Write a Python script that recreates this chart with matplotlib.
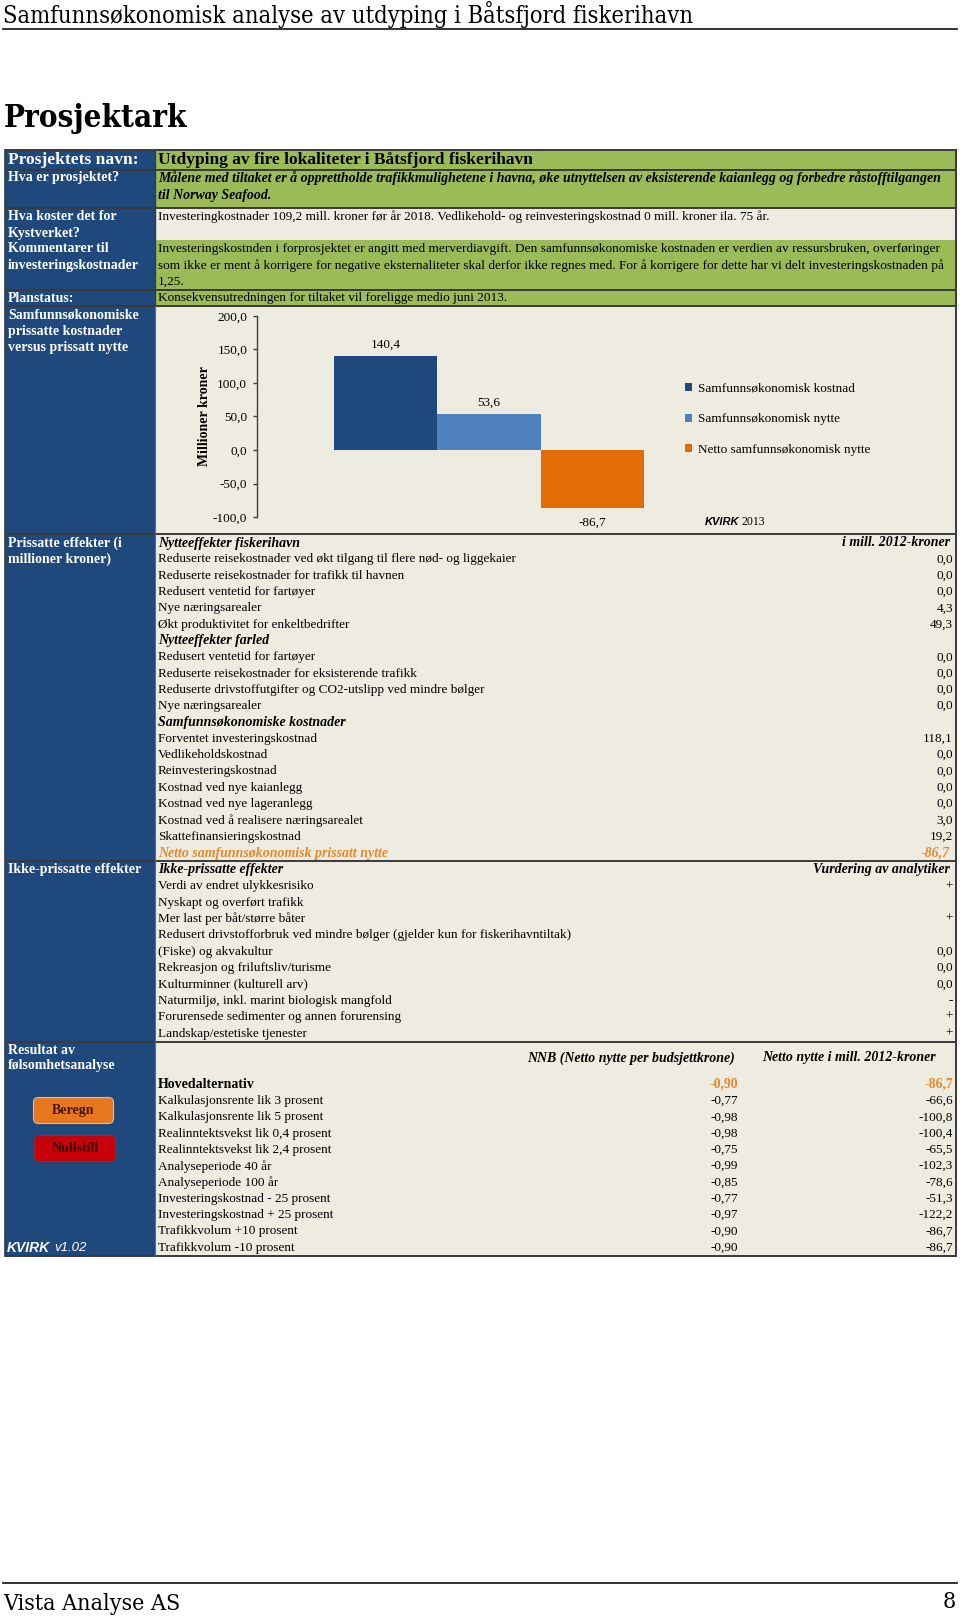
import matplotlib
matplotlib.use("Agg")
import matplotlib.pyplot as plt
from matplotlib.patches import Rectangle, FancyBboxPatch

# ---------------- data ----------------
page_header = "Samfunnsøkonomisk analyse av utdyping i Båtsfjord fiskerihavn"
page_title = "Prosjektark"
footer_left = "Vista Analyse AS"
footer_right = "8"

project_name = "Utdyping av fire lokaliteter i Båtsfjord fiskerihavn"
project_desc = [
    "Målene med tiltaket er å opprettholde trafikkmulighetene i havna, øke utnyttelsen av eksisterende kaianlegg og forbedre råstofftilgangen",
    "til Norway Seafood.",
]
cost_text = ["Investeringkostnader 109,2 mill. kroner før år 2018. Vedlikehold- og reinvesteringskostnad 0 mill. kroner ila. 75 år."]
comment_text = [
    "Investeringskostnden i forprosjektet er angitt med merverdiavgift. Den samfunnsøkonomiske kostnaden er verdien av ressursbruken, overføringer",
    "som ikke er ment å korrigere for negative eksternaliteter skal derfor ikke regnes med. For å korrigere for dette har vi delt investeringskostnaden på",
    "1,25.",
]
plan_text = "Konsekvensutredningen for tiltaket vil foreligge medio juni 2013."

chart_categories = ["Samfunnsøkonomisk kostnad", "Samfunnsøkonomisk nytte", "Netto samfunnsøkonomisk nytte"]
chart_values = [140.4, 53.6, -86.7]
chart_yticks = [-100, -50, 0, 50, 100, 150, 200]

fiskerihavn_items = [
    "Reduserte reisekostnader ved økt tilgang til flere nød- og liggekaier",
    "Reduserte reisekostnader for trafikk til havnen",
    "Redusert ventetid for fartøyer",
    "Nye næringsarealer",
    "Økt produktivitet for enkeltbedrifter",
]
fiskerihavn_values = [0.0, 0.0, 0.0, 4.3, 49.3]
farled_items = [
    "Redusert ventetid for fartøyer",
    "Reduserte reisekostnader for eksisterende trafikk",
    "Reduserte drivstoffutgifter og CO2-utslipp ved mindre bølger",
    "Nye næringsarealer",
]
farled_values = [0.0, 0.0, 0.0, 0.0]
kostnad_items = [
    "Forventet investeringskostnad",
    "Vedlikeholdskostnad",
    "Reinvesteringskostnad",
    "Kostnad ved nye kaianlegg",
    "Kostnad ved nye lageranlegg",
    "Kostnad ved å realisere næringsarealet",
    "Skattefinansieringskostnad",
]
kostnad_values = [118.1, 0.0, 0.0, 0.0, 0.0, 3.0, 19.2]
netto_prissatt = -86.7

ikke_items = [
    "Verdi av endret ulykkesrisiko",
    "Nyskapt og overført trafikk",
    "Mer last per båt/større båter",
    "Redusert drivstofforbruk ved mindre bølger (gjelder kun for fiskerihavntiltak)",
    "(Fiske) og akvakultur",
    "Rekreasjon og friluftsliv/turisme",
    "Kulturminner (kulturell arv)",
    "Naturmiljø, inkl. marint biologisk mangfold",
    "Forurensede sedimenter og annen forurensing",
    "Landskap/estetiske tjenester",
]
ikke_values = ["+", "", "+", "", "0,0", "0,0", "0,0", "-", "+", "+"]

sens_main = "Hovedalternativ"
sens_main_nnb = -0.90
sens_main_netto = -86.7
sens_items = [
    "Kalkulasjonsrente lik 3 prosent",
    "Kalkulasjonsrente lik 5 prosent",
    "Realinntektsvekst lik 0,4 prosent",
    "Realinntektsvekst lik 2,4 prosent",
    "Analyseperiode 40 år",
    "Analyseperiode 100 år",
    "Investeringskostnad - 25 prosent",
    "Investeringskostnad + 25 prosent",
    "Trafikkvolum +10 prosent",
    "Trafikkvolum -10 prosent",
]
sens_nnb = [-0.77, -0.98, -0.98, -0.75, -0.99, -0.85, -0.77, -0.97, -0.90, -0.90]
sens_netto = [-66.6, -100.8, -100.4, -65.5, -102.3, -78.6, -51.3, -122.2, -86.7, -86.7]

# ---------------- style ----------------
SERIF = ["Liberation Serif", "DejaVu Serif"]
NAVY = "#1F497D"
GREEN = "#9BBB59"
BEIGE = "#EEECE1"
BORDER = "#3A3A3A"
ORANGE_TXT = "#E5892F"
FS = 9.5      # body text
FSB = 10.0    # bold / bold-italic text
FSL = 10.0    # left column labels


def nf(v, d=1):
    return f"{v:.{d}f}".replace(".", ",")


W, H = 960, 1620
fig = plt.figure(figsize=(W / 100, H / 100), dpi=100)
fig.patch.set_facecolor("white")
bg = fig.add_axes([0, 0, 1, 1])
bg.set_xlim(0, W)
bg.set_ylim(H, 0)
bg.axis("off")


def txt(x, y, s, size=FS, weight="normal", style="normal", color="black", ha="left", family=None, **kw):
    bg.text(x, y, s, fontsize=size, fontweight=weight, fontstyle=style, color=color, ha=ha, va="center",
            family=family or SERIF, **kw)


# page header / title / footer
COND = ["DejaVu Serif"]
txt(3, 15, page_header, size=17, family=COND, fontstretch="condensed")
bg.plot([3, 957], [29, 29], color="#222222", lw=1.3)
txt(4, 119, page_title, size=22.5, weight="bold", family=COND, fontstretch="condensed")
bg.plot([3, 957], [1583, 1583], color="#222222", lw=1.3)
txt(3, 1604, footer_left, size=16.7, family=COND, fontstretch="condensed")
txt(956, 1602, footer_right, size=16.7, ha="right", family=COND, fontstretch="condensed")

# table geometry
X0, XS, X1 = 5, 155, 956
rows = [(150, 170, GREEN), (170, 208, GREEN), (208, 240, BEIGE), (240, 290, GREEN), (290, 306, GREEN),
        (306, 534, BEIGE), (534, 861, BEIGE), (861, 1042, BEIGE), (1042, 1256, BEIGE)]
bg.add_patch(Rectangle((X0, 150), XS - X0, 1256 - 150, facecolor=NAVY, edgecolor="none"))
for y0, y1, c in rows:
    bg.add_patch(Rectangle((XS, y0), X1 - XS, y1 - y0, facecolor=c, edgecolor="none"))
for yl in [150, 170, 208, 290, 306, 534, 861, 1042, 1256]:
    bg.plot([X0, X1], [yl, yl], color=BORDER, lw=1.4, solid_capstyle="butt")
bg.plot([X0, X0], [150, 1256], color=BORDER, lw=1.2)
bg.plot([X1, X1], [150, 1256], color=BORDER, lw=1.4)
bg.plot([XS, XS], [150, 306], color=BORDER, lw=1.0)
bg.plot([XS, XS], [306, 1256], color="#4F6FA0", lw=0.8)

LX, RX, VX = 8, 158, 953
# top rows
txt(LX, 160, "Prosjektets navn:", size=12.6, weight="bold", color="white")
txt(RX, 160, project_name, size=12.5, weight="bold")
txt(LX, 178, "Hva er prosjektet?", size=FSL, weight="bold", color="white")
for i, line in enumerate(project_desc):
    txt(RX, 178 + 17 * i, line, size=FSB, weight="bold", style="italic")
txt(LX, 217, "Hva koster det for", size=FSL, weight="bold", color="white")
txt(LX, 233, "Kystverket?", size=FSL, weight="bold", color="white")
txt(RX, 217, cost_text[0])
txt(LX, 249, "Kommentarer til", size=FSL, weight="bold", color="white")
txt(LX, 265, "investeringskostnader", size=FSL, weight="bold", color="white")
for i, line in enumerate(comment_text):
    txt(RX, 249 + 16.5 * i, line, size=9.6)
txt(LX, 298, "Planstatus:", size=FSL, weight="bold", color="white")
txt(RX, 298, plan_text)

for i, line in enumerate(["Samfunnsøkonomiske", "prissatte kostnader", "versus prissatt nytte"]):
    txt(LX, 315 + 16 * i, line, size=FSL, weight="bold", color="white")

# ---------------- bar chart ----------------
ax = fig.add_axes([257 / W, 1 - 517 / H, (721 - 257) / W, (517 - 316) / H])
ax.set_facecolor("none")
bar_colors = ["#1F497D", "#4F81BD", "#E36C09"]
containers = []
for i, (cat, val) in enumerate(zip(chart_categories, chart_values)):
    bc = ax.bar([i], [val], width=1.0, color=bar_colors[i], label=cat)
    containers.append(bc)
    ax.bar_label(bc, labels=[nf(val)], padding=4 if val > 0 else 6, fontsize=FS, family=SERIF)
ax.set_xlim(-1.25, 3.25)
ax.set_ylim(-100, 200)
ax.set_yticks(chart_yticks)
ax.set_yticklabels([nf(t) for t in chart_yticks], fontsize=FS, family=SERIF)
ax.set_xticks([])
for s in ["top", "right", "bottom"]:
    ax.spines[s].set_visible(False)
ax.spines["left"].set_color("#404040")
ax.spines["left"].set_linewidth(1.0)
ax.tick_params(axis="y", direction="out", length=3, width=1.0, color="#404040", pad=4)
ax.set_ylabel("Millioner kroner", fontsize=FSB, fontweight="bold", family=SERIF)
ax.yaxis.set_label_coords(-0.10, 0.5)
ax.legend(handles=[c.patches[0] for c in containers], labels=chart_categories, loc="upper left",
          bbox_to_anchor=(685 / W, 1 - 383 / H), bbox_transform=fig.transFigure, frameon=False,
          handlelength=0.55, handleheight=0.55, handletextpad=0.45, labelspacing=1.4,
          borderpad=0, borderaxespad=0, prop={"family": SERIF, "size": FS})
txt(705, 522, "KVIRK", size=8, weight="bold", style="italic", family=["Liberation Sans", "DejaVu Sans"])
txt(742, 522, "2013", size=8.5)

# ---------------- prissatte effekter ----------------
txt(LX, 543, "Prissatte effekter (i", size=FSL, weight="bold", color="white")
txt(LX, 559, "millioner kroner)", size=FSL, weight="bold", color="white")
step = 16.32
y = 543
txt(RX, y, "Nytteeffekter fiskerihavn", size=FSB, weight="bold", style="italic")
txt(950, y, "i mill. 2012-kroner", size=FSB, weight="bold", style="italic", ha="right")
for item, v in zip(fiskerihavn_items, fiskerihavn_values):
    y += step
    txt(RX, y, item)
    txt(VX, y, nf(v), ha="right")
y += step
txt(RX, y, "Nytteeffekter farled", size=FSB, weight="bold", style="italic")
for item, v in zip(farled_items, farled_values):
    y += step
    txt(RX, y, item)
    txt(VX, y, nf(v), ha="right")
y += step
txt(RX, y, "Samfunnsøkonomiske kostnader", size=FSB, weight="bold", style="italic")
for item, v in zip(kostnad_items, kostnad_values):
    y += step
    txt(RX, y, item)
    txt(VX, y, nf(v), ha="right")
y += step
txt(RX, y, "Netto samfunnsøkonomisk prissatt nytte", size=FSB, weight="bold", style="italic", color=ORANGE_TXT)
txt(950, y, nf(netto_prissatt), size=FSB, weight="bold", style="italic", color=ORANGE_TXT, ha="right")

# ---------------- ikke-prissatte ----------------
txt(LX, 870, "Ikke-prissatte effekter", size=FSL, weight="bold", color="white")
y = 870
txt(RX, y, "Ikke-prissatte effekter", size=FSB, weight="bold", style="italic")
txt(950, y, "Vurdering av analytiker", size=FSB, weight="bold", style="italic", ha="right")
for item, v in zip(ikke_items, ikke_values):
    y += 16.35
    txt(RX, y, item)
    txt(VX, y, v, ha="right")

# ---------------- følsomhetsanalyse ----------------
txt(LX, 1050, "Resultat av", size=FSL, weight="bold", color="white")
txt(LX, 1066, "følsomhetsanalyse", size=FSL, weight="bold", color="white")
txt(735, 1058, "NNB (Netto nytte per budsjettkrone)", size=FSB, weight="bold", style="italic", ha="right")
txt(762, 1058, "Netto nytte i mill. 2012-kroner", size=FSB, weight="bold", style="italic")
txt(RX, 1084, sens_main, size=FSB, weight="bold")
txt(738, 1084, nf(sens_main_nnb, 2), size=FSB, weight="bold", color=ORANGE_TXT, ha="right")
txt(VX, 1084, nf(sens_main_netto), size=FSB, weight="bold", color=ORANGE_TXT, ha="right")
for j, (item, a, b) in enumerate(zip(sens_items, sens_nnb, sens_netto)):
    yy = 1101 + 16.3 * j
    txt(RX, yy, item)
    txt(738, yy, nf(a, 2), ha="right")
    txt(VX, yy, nf(b), ha="right")

# buttons
bg.add_patch(FancyBboxPatch((35, 1099), 77, 23, boxstyle="round,pad=1.5,rounding_size=5",
                            facecolor="#E8761E", edgecolor="#C9C0B0", lw=0.8))
txt(73.5, 1110.5, "Beregn", size=FSL, weight="bold", color="#4A1500", ha="center")
bg.add_patch(FancyBboxPatch((36, 1137), 78, 23, boxstyle="round,pad=1.5,rounding_size=5",
                            facecolor="#C8000A", edgecolor="#8A3030", lw=0.8))
txt(75, 1148.5, "Nullstill", size=FSL, weight="bold", color="#3A0000", ha="center")

txt(7, 1248, "KVIRK", size=10, weight="bold", style="italic", color="white", family=["Liberation Sans", "DejaVu Sans"])
txt(54, 1248, "v1.02", size=9.5, style="italic", color="white", family=["Liberation Sans", "DejaVu Sans"])

fig.savefig("out.png", dpi=100, facecolor="white")
